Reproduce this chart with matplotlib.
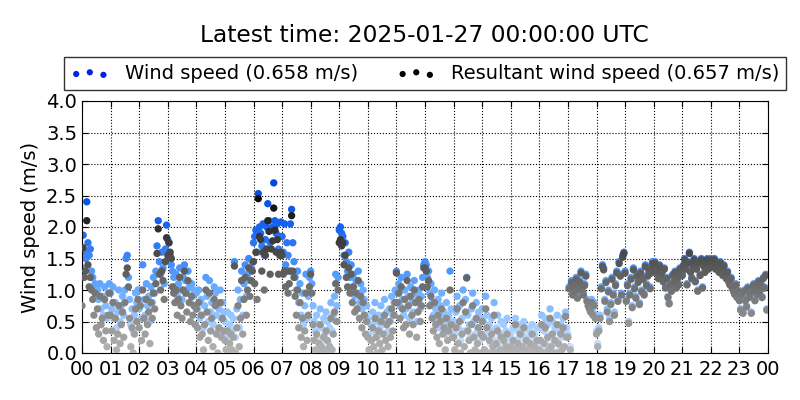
import matplotlib
matplotlib.use('Agg')
import matplotlib.pyplot as plt
from matplotlib.colors import LinearSegmentedColormap
import numpy as np

# 2.5-minute samples, one row per hour (00..23)
wind_speed = [
    [1.35, 1.87, 1.60, 1.50, 2.40, 1.75, 1.55, 1.65, 1.30, 1.20, 1.05, 1.10, 0.95, 1.00, 0.85, 1.10, 0.70, 0.90, 0.60, 1.05, 0.75, 0.55, 0.95, 1.10],
    [0.95, 0.70, 1.05, 0.55, 0.80, 0.40, 0.65, 1.00, 0.50, 0.75, 0.90, 0.60, 1.00, 1.50, 1.55, 1.20, 0.85, 0.45, 0.70, 0.35, 0.60, 0.95, 0.80, 1.00],
    [0.70, 1.00, 0.55, 1.40, 0.85, 0.60, 1.10, 0.75, 0.90, 0.50, 1.05, 0.80, 1.20, 0.95, 1.30, 1.70, 2.10, 1.45, 1.25, 1.60, 1.35, 1.10, 1.65, 2.03],
    [1.80, 1.75, 1.55, 1.40, 1.30, 1.20, 1.05, 1.25, 0.90, 1.10, 1.35, 1.00, 0.85, 1.20, 1.40, 1.15, 0.95, 1.30, 1.05, 0.80, 1.10, 0.90, 1.00, 0.75],
    [0.95, 0.70, 1.00, 0.55, 0.85, 0.60, 0.40, 0.75, 1.20, 0.90, 0.50, 1.15, 0.65, 0.80, 0.45, 1.05, 0.95, 0.60, 0.35, 0.70, 1.00, 0.55, 0.80, 0.65],
    [0.50, 0.30, 0.65, 0.20, 0.45, 0.60, 0.35, 0.55, 1.45, 0.25, 0.70, 1.00, 0.40, 0.85, 1.30, 0.60, 1.10, 1.40, 0.90, 1.25, 1.50, 1.15, 1.35, 1.45],
    [1.75, 1.85, 1.95, 1.60, 2.53, 2.00, 1.90, 1.70, 2.05, 1.55, 1.80, 2.00, 2.37, 2.10, 1.75, 1.95, 2.00, 2.70, 2.10, 1.90, 2.05, 1.65, 1.85, 2.08],
    [1.85, 1.60, 2.05, 1.40, 1.75, 1.55, 1.30, 2.05, 2.28, 1.75, 1.45, 1.20, 1.00, 1.30, 0.80, 1.10, 0.60, 0.95, 0.45, 0.75, 1.25, 0.55, 0.90, 1.20],
    [1.30, 1.10, 0.75, 0.50, 0.35, 0.60, 0.25, 0.45, 0.70, 0.40, 0.20, 0.55, 0.30, 0.65, 0.50, 0.15, 0.40, 0.80, 0.35, 0.60, 0.90, 1.25, 0.75, 1.20],
    [1.95, 2.00, 1.90, 1.85, 1.55, 1.75, 1.45, 1.30, 1.60, 1.20, 1.40, 1.05, 1.25, 0.90, 1.15, 0.95, 1.30, 0.80, 1.10, 0.70, 1.00, 0.85, 0.60, 0.75],
    [0.55, 0.30, 0.20, 0.45, 0.65, 0.35, 0.80, 0.50, 0.25, 0.60, 0.40, 0.75, 0.30, 0.55, 0.85, 0.45, 0.65, 0.35, 0.70, 0.50, 0.90, 0.60, 0.80, 1.00],
    [1.30, 0.95, 1.10, 0.75, 1.20, 0.85, 0.60, 1.00, 0.70, 1.25, 0.90, 0.55, 1.05, 0.80, 0.65, 1.15, 0.95, 0.50, 0.85, 1.00, 0.70, 0.90, 1.20, 1.40],
    [1.45, 1.40, 1.20, 1.30, 0.95, 1.10, 0.80, 0.60, 1.00, 0.70, 0.50, 0.85, 0.40, 0.75, 0.95, 0.55, 0.65, 0.30, 0.80, 0.45, 0.60, 1.30, 0.70, 0.50],
    [0.50, 0.30, 0.65, 0.90, 0.40, 0.75, 0.20, 0.55, 1.00, 0.35, 0.85, 1.20, 0.60, 0.45, 0.25, 0.70, 0.95, 0.50, 0.30, 0.80, 0.40, 0.65, 0.20, 0.55],
    [0.70, 0.50, 0.30, 0.90, 0.60, 0.25, 0.45, 0.15, 0.55, 0.35, 0.80, 0.20, 0.40, 0.60, 0.10, 0.30, 0.50, 0.25, 0.45, 0.15, 0.35, 0.55, 0.20, 0.30],
    [0.30, 0.15, 0.40, 0.20, 0.55, 0.10, 0.35, 0.25, 0.45, 0.05, 0.30, 0.50, 0.20, 0.40, 0.10, 0.25, 0.35, 0.15, 0.45, 0.05, 0.30, 0.20, 0.40, 0.10],
    [0.20, 0.40, 0.60, 0.10, 0.35, 0.55, 0.15, 0.45, 0.25, 0.70, 0.30, 0.50, 0.15, 0.40, 0.20, 0.60, 0.35, 0.10, 0.45, 0.25, 0.55, 0.30, 0.65, 0.40],
    [0.30, 1.05, 0.10, 1.15, 0.95, 1.10, 1.00, 1.20, 0.90, 1.05, 1.15, 1.30, 1.00, 0.95, 1.10, 1.25, 0.85, 0.80, 0.75, 0.70, 0.85, 0.65, 0.80, 0.60],
    [0.35, 0.15, 0.40, 0.60, 1.05, 1.40, 1.35, 0.85, 1.15, 0.70, 1.00, 0.55, 0.80, 1.20, 0.95, 0.65, 1.10, 1.30, 0.85, 1.45, 1.25, 0.95, 1.55, 1.60],
    [1.30, 0.85, 1.10, 0.50, 0.95, 1.20, 0.75, 1.35, 1.05, 0.90, 1.25, 1.15, 0.80, 1.30, 1.00, 1.20, 0.95, 1.40, 1.10, 1.25, 1.35, 1.05, 1.30, 1.45],
    [1.40, 1.45, 1.30, 1.35, 1.20, 1.40, 1.25, 1.30, 1.15, 1.35, 1.05, 1.20, 0.90, 0.80, 1.10, 1.00, 1.25, 1.15, 1.30, 1.05, 1.20, 1.10, 1.35, 1.25],
    [1.25, 1.40, 1.50, 1.35, 1.10, 1.45, 1.60, 1.30, 1.20, 1.40, 1.50, 1.15, 1.35, 1.00, 1.45, 1.25, 1.50, 1.05, 1.40, 1.30, 1.45, 1.50, 1.35, 1.45],
    [1.50, 1.45, 1.40, 1.50, 1.35, 1.45, 1.40, 1.30, 1.45, 1.35, 1.25, 1.40, 1.30, 1.20, 1.30, 1.15, 1.10, 1.20, 1.05, 1.00, 0.95, 1.10, 0.90, 1.00],
    [0.85, 0.70, 0.95, 0.65, 1.00, 0.85, 0.75, 1.05, 0.90, 0.95, 0.65, 1.00, 1.10, 0.85, 1.05, 0.95, 1.15, 1.00, 1.10, 0.90, 1.20, 1.05, 1.25, 0.70],
]

resultant_speed = [
    [0.75, 1.67, 1.20, 1.30, 2.10, 1.40, 1.05, 1.20, 1.00, 0.85, 0.60, 0.95, 0.40, 0.70, 0.30, 0.90, 0.45, 0.55, 0.20, 0.85, 0.35, 0.10, 0.60, 0.95],
    [0.60, 0.35, 0.80, 0.20, 0.55, 0.05, 0.30, 0.75, 0.15, 0.45, 0.65, 0.25, 0.80, 1.25, 1.35, 1.05, 0.55, 0.10, 0.40, 0.00, 0.30, 0.70, 0.50, 0.85],
    [0.40, 0.75, 0.20, 1.00, 0.55, 0.30, 0.85, 0.45, 0.65, 0.15, 0.80, 0.55, 0.95, 0.70, 1.10, 1.58, 1.97, 1.25, 1.00, 1.30, 1.15, 0.85, 1.45, 1.83],
    [1.55, 1.75, 1.60, 1.50, 1.05, 0.95, 0.80, 1.00, 0.60, 0.85, 1.20, 0.75, 0.55, 1.00, 1.30, 0.95, 0.65, 1.15, 0.80, 0.50, 0.90, 0.60, 0.75, 0.45],
    [0.70, 0.40, 0.80, 0.25, 0.60, 0.30, 0.05, 0.45, 1.00, 0.65, 0.20, 0.95, 0.35, 0.55, 0.10, 0.85, 0.75, 0.30, 0.00, 0.40, 0.80, 0.25, 0.55, 0.35],
    [0.20, 0.05, 0.35, 0.00, 0.15, 0.30, 0.05, 0.25, 1.38, 0.00, 0.40, 0.75, 0.10, 0.55, 1.15, 0.30, 0.85, 1.20, 0.60, 1.00, 1.35, 0.90, 1.15, 1.30],
    [1.45, 1.10, 1.60, 0.85, 2.45, 1.85, 1.80, 1.30, 1.60, 1.00, 1.55, 1.65, 2.10, 1.93, 1.25, 1.65, 1.78, 2.30, 1.95, 1.60, 1.80, 1.25, 1.55, 1.60],
    [1.55, 1.25, 1.30, 1.05, 1.30, 0.95, 1.10, 1.30, 2.18, 1.30, 1.20, 0.90, 0.60, 1.00, 0.40, 0.80, 0.25, 0.55, 0.10, 0.35, 0.95, 0.20, 0.60, 1.05],
    [1.25, 0.95, 0.45, 0.20, 0.05, 0.30, 0.00, 0.15, 0.45, 0.10, 0.00, 0.25, 0.05, 0.35, 0.20, 0.00, 0.10, 0.55, 0.05, 0.30, 0.65, 1.10, 0.50, 1.00],
    [1.75, 1.80, 1.70, 1.75, 1.40, 1.55, 1.20, 1.05, 1.35, 0.95, 1.25, 0.80, 1.05, 0.65, 0.95, 0.70, 1.15, 0.55, 0.90, 0.40, 0.80, 0.60, 0.30, 0.50],
    [0.25, 0.05, 0.00, 0.20, 0.40, 0.10, 0.55, 0.25, 0.00, 0.35, 0.15, 0.50, 0.05, 0.30, 0.60, 0.20, 0.45, 0.10, 0.50, 0.25, 0.70, 0.35, 0.60, 0.80],
    [1.27, 0.80, 0.95, 0.55, 1.05, 0.70, 0.40, 0.85, 0.45, 1.15, 0.75, 0.30, 0.90, 0.60, 0.45, 1.00, 0.80, 0.25, 0.65, 0.85, 0.50, 0.75, 1.05, 1.35],
    [1.35, 1.30, 1.05, 1.15, 0.75, 0.90, 0.55, 0.35, 0.80, 0.45, 0.25, 0.60, 0.15, 0.50, 0.70, 0.30, 0.40, 0.05, 0.55, 0.20, 0.35, 1.00, 0.45, 0.25],
    [0.25, 0.05, 0.40, 0.70, 0.15, 0.50, 0.00, 0.30, 0.80, 0.10, 0.65, 1.19, 0.35, 0.20, 0.00, 0.45, 0.75, 0.25, 0.05, 0.55, 0.15, 0.40, 0.00, 0.30],
    [0.50, 0.25, 0.05, 0.70, 0.40, 0.00, 0.20, 0.00, 0.30, 0.10, 0.60, 0.00, 0.15, 0.35, 0.00, 0.05, 0.25, 0.00, 0.20, 0.00, 0.10, 0.30, 0.00, 0.05],
    [0.10, 0.00, 0.20, 0.05, 0.45, 0.00, 0.15, 0.05, 0.30, 0.00, 0.10, 0.40, 0.00, 0.20, 0.00, 0.05, 0.15, 0.00, 0.30, 0.00, 0.10, 0.00, 0.20, 0.00],
    [0.05, 0.20, 0.45, 0.00, 0.15, 0.40, 0.00, 0.25, 0.05, 0.55, 0.10, 0.30, 0.00, 0.20, 0.00, 0.45, 0.15, 0.00, 0.30, 0.05, 0.40, 0.10, 0.58, 0.25],
    [0.25, 1.02, 0.05, 1.12, 0.92, 1.07, 0.97, 1.17, 0.87, 1.02, 1.12, 1.27, 0.97, 0.92, 1.07, 1.22, 0.82, 0.75, 0.70, 0.65, 0.80, 0.60, 0.75, 0.55],
    [0.30, 0.10, 0.35, 0.55, 1.02, 1.37, 1.32, 0.82, 1.12, 0.65, 0.97, 0.50, 0.77, 1.17, 0.92, 0.60, 1.07, 1.27, 0.82, 1.42, 1.22, 0.92, 1.52, 1.58],
    [1.27, 0.82, 1.07, 0.47, 0.92, 1.17, 0.72, 1.32, 1.02, 0.87, 1.22, 1.12, 0.77, 1.27, 0.97, 1.17, 0.92, 1.37, 1.07, 1.22, 1.32, 1.02, 1.27, 1.42],
    [1.38, 1.43, 1.28, 1.33, 1.18, 1.38, 1.23, 1.28, 1.13, 1.33, 1.03, 1.18, 0.88, 0.78, 1.08, 0.98, 1.23, 1.13, 1.28, 1.03, 1.18, 1.08, 1.33, 1.23],
    [1.23, 1.38, 1.48, 1.33, 1.08, 1.43, 1.58, 1.28, 1.18, 1.38, 1.48, 1.13, 1.33, 0.98, 1.43, 1.23, 1.48, 1.03, 1.38, 1.28, 1.43, 1.48, 1.33, 1.43],
    [1.48, 1.43, 1.38, 1.48, 1.33, 1.43, 1.38, 1.28, 1.43, 1.33, 1.23, 1.38, 1.28, 1.18, 1.28, 1.13, 1.08, 1.18, 1.03, 0.98, 0.93, 1.08, 0.88, 0.98],
    [0.83, 0.68, 0.93, 0.63, 0.98, 0.83, 0.73, 1.03, 0.88, 0.93, 0.63, 0.98, 1.08, 0.83, 1.03, 0.93, 1.13, 0.98, 1.08, 0.88, 1.18, 1.03, 1.23, 0.68],
]

mean_wind = 0.658
mean_resultant = 0.657
hour_labels = ['%02d' % (h % 24) for h in range(25)]

ws = np.array(wind_speed).ravel()
rs = np.array(resultant_speed).ravel()
samples_per_hour = len(wind_speed[0])
t = np.arange(len(ws)) / float(samples_per_hour)

blue_map = LinearSegmentedColormap.from_list(
    'bl', [(0.0, '#d4e6ff'), (0.35, '#6aaeff'), (0.7, '#1a66f0'), (1.0, '#0044d8')])
grey_map = LinearSegmentedColormap.from_list(
    'gr', [(0.0, '#b4b4b4'), (0.4, '#6e6e6e'), (0.75, '#303030'), (1.0, '#000000')])

fig = plt.figure(figsize=(8, 4), dpi=100)
ax = fig.add_axes([0.1025, 0.1175, 0.8575, 0.63])

ax.scatter(t, ws, c=ws, cmap=blue_map, vmin=0, vmax=2.8, s=28, linewidths=0, zorder=2)
ax.scatter(t, rs, c=rs, cmap=grey_map, vmin=0, vmax=2.6, s=28, linewidths=0, zorder=3)

h1 = ax.scatter([], [], c='#0022ee', s=20, linewidths=0)
h2 = ax.scatter([], [], c='black', s=20, linewidths=0)
leg = ax.legend([h1, h2],
                ['Wind speed (%.3f m/s)' % mean_wind,
                 'Resultant wind speed (%.3f m/s)' % mean_resultant],
                loc='lower center', bbox_to_anchor=(0.5, 1.044), ncol=2,
                fontsize=14, scatterpoints=3, fancybox=False,
                borderaxespad=0, borderpad=0.35)
leg.get_frame().set_edgecolor('black')
leg.get_frame().set_linewidth(1.0)

ax.set_xlim(0, 24)
ax.set_ylim(0, 4)
ax.set_xticks(range(25))
ax.set_xticklabels(hour_labels)
ax.set_yticks(np.arange(0, 4.01, 0.5))
ax.set_yticklabels(['%.1f' % v for v in np.arange(0, 4.01, 0.5)])
ax.tick_params(direction='in', top=True, right=True, labelsize=14, length=4)
ax.tick_params(axis='x', pad=5)
ax.grid(True, linestyle=':', color='black', linewidth=0.8)
ax.set_ylabel('Wind speed (m/s)', fontsize=14)

# title is centred over the axes, not the figure
fig.text(0.531, 0.912, 'Latest time: 2025-01-27 00:00:00 UTC',
         fontsize=16.8, ha='center', va='center')

fig.savefig('out.png', dpi=100)
